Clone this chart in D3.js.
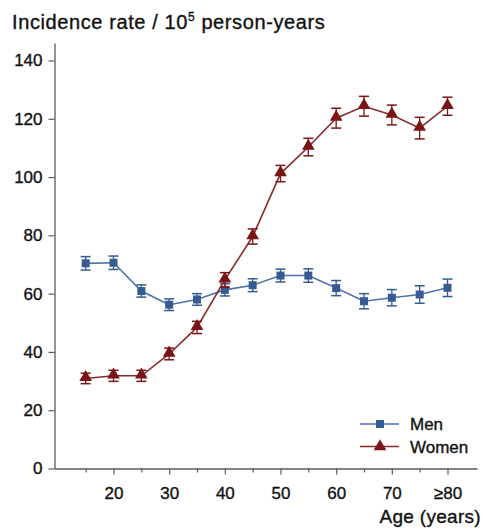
<!DOCTYPE html>
<html>
<head>
<meta charset="utf-8">
<script src="https://cdn.jsdelivr.net/npm/d3@7"></script>
<style>
  html, body { margin: 0; padding: 0; background: #fff; }
  svg { display: block; font-family: "Liberation Sans", Arial, Helvetica, sans-serif; }
  .txt { fill: #111; stroke: #111; stroke-width: 0.35px; }
</style>
</head>
<body>
<svg id="chart" width="483" height="528"></svg>
<script>
const ages = [15, 20, 25, 30, 35, 40, 45, 50, 55, 60, 65, 70, 75, 80];
const menValues = [70.4, 70.6, 60.9, 56.2, 58.0, 61.3, 62.9, 66.2, 66.2, 61.9, 57.4, 58.6, 59.7, 62.0];
const menErr = [2.3, 2.3, 2.1, 2.0, 2.0, 2.1, 2.2, 2.2, 2.3, 2.6, 2.6, 2.8, 3.0, 3.0];
const womenValues = [30.9, 31.8, 31.8, 39.3, 48.4, 64.7, 79.6, 101.2, 110.3, 120.2, 124.3, 121.3, 116.8, 124.3];
const womenErr = [1.8, 1.9, 1.9, 2.0, 2.1, 2.5, 2.6, 2.8, 3.0, 3.4, 3.4, 3.4, 3.7, 3.1];
const xMajorTicks = [20, 30, 40, 50, 60, 70, 80];
const xMajorLabels = ["20", "30", "40", "50", "60", "70", "≥80"];
const xMinorTicks = [15, 25, 35, 45, 55, 65, 75];
const yTicks = [0, 20, 40, 60, 80, 100, 120, 140];
const seriesNames = ["Men", "Women"];

const svg = d3.select("#chart");
const x = d3.scaleLinear().domain([9.4, 85.3]).range([54.5, 477]);
const y = d3.scaleLinear().domain([0, 146]).range([468.5, 43]);

const axisColor = "#5a5a5a";
const menColor = "#365a92";
const menLine = "#4f72a8";
const womenColor = "#7a1417";
const womenLine = "#8a2a2c";

// Title
const title = svg.append("text").attr("class", "txt")
  .attr("x", 12).attr("y", 29)
  .attr("font-size", 20).attr("letter-spacing", 0.6);
title.append("tspan").text("Incidence rate / 10");
title.append("tspan").text("5").attr("font-size", 12).attr("dy", -8);
title.append("tspan").text(" person-years").attr("dy", 8);

// Y axis
const yAxis = svg.append("g").attr("transform", `translate(${x.range()[0]},0)`)
  .call(d3.axisLeft(y).tickValues(yTicks).tickSize(6).tickPadding(6).tickSizeOuter(0));
yAxis.select(".domain").attr("stroke", axisColor).attr("stroke-width", 1.3);
yAxis.selectAll(".tick line").attr("stroke", axisColor).attr("stroke-width", 1.2);
yAxis.selectAll(".tick text").attr("class", "txt").attr("font-size", 17)
  .attr("font-family", "'Liberation Sans', Arial, sans-serif");

// X axis
const xAxis = svg.append("g").attr("transform", `translate(0,${y(0)})`)
  .call(d3.axisBottom(x).tickValues(xMajorTicks).tickFormat((d, i) => xMajorLabels[i])
    .tickSize(6).tickPadding(12).tickSizeOuter(0));
xAxis.select(".domain").attr("stroke", axisColor).attr("stroke-width", 1.3);
xAxis.selectAll(".tick line").attr("stroke", axisColor).attr("stroke-width", 1.2);
xAxis.selectAll(".tick text").attr("class", "txt").attr("font-size", 17)
  .attr("font-family", "'Liberation Sans', Arial, sans-serif");
const xMinor = svg.append("g").attr("transform", `translate(0,${y(0)})`)
  .call(d3.axisBottom(x).tickValues(xMinorTicks).tickFormat("").tickSize(4).tickSizeOuter(0));
xMinor.select(".domain").remove();
xMinor.selectAll(".tick line").attr("stroke", axisColor).attr("stroke-width", 1.2);

// X axis title
svg.append("text").attr("class", "txt").attr("x", 481).attr("y", 523).attr("text-anchor", "end")
  .attr("font-size", 19).attr("letter-spacing", 0.3).text("Age (years)");

function drawSeries(vals, errs, lineColor, markColor, shape) {
  const g = svg.append("g");
  const pts = ages.map((a, i) => ({ a, v: vals[i], e: errs[i] }));
  g.append("path").datum(pts)
    .attr("fill", "none").attr("stroke", lineColor).attr("stroke-width", 1.6)
    .attr("d", d3.line().x(d => x(d.a)).y(d => y(d.v)));
  const eb = g.selectAll(".eb").data(pts).enter().append("g");
  eb.append("line").attr("x1", d => x(d.a)).attr("x2", d => x(d.a))
    .attr("y1", d => y(d.v - d.e)).attr("y2", d => y(d.v + d.e))
    .attr("stroke", markColor).attr("stroke-width", 1.3);
  [1, -1].forEach(s => {
    eb.append("line").attr("x1", d => x(d.a) - 5).attr("x2", d => x(d.a) + 5)
      .attr("y1", d => y(d.v + s * d.e)).attr("y2", d => y(d.v + s * d.e))
      .attr("stroke", markColor).attr("stroke-width", 1.5);
  });
  const sym = shape === "square" ? d3.symbol().type(d3.symbolSquare).size(64)
                                 : d3.symbol().type(d3.symbolTriangle).size(70);
  g.selectAll(".mk").data(pts).enter().append("path")
    .attr("transform", d => `translate(${x(d.a)},${y(d.v) + (shape === "square" ? 0 : -1)})`)
    .attr("d", sym).attr("fill", markColor);
}
drawSeries(menValues, menErr, menLine, menColor, "square");
drawSeries(womenValues, womenErr, womenLine, womenColor, "triangle");

// Legend
const legend = [
  { name: seriesNames[0], line: menLine, color: menColor, shape: d3.symbolSquare, size: 64, y: 424 },
  { name: seriesNames[1], line: womenLine, color: womenColor, shape: d3.symbolTriangle, size: 70, y: 446.5 }
];
const lg = svg.append("g");
legend.forEach(l => {
  lg.append("line").attr("x1", 360).attr("x2", 399).attr("y1", l.y).attr("y2", l.y)
    .attr("stroke", l.line).attr("stroke-width", 1.6);
  lg.append("path").attr("transform", `translate(380,${l.y})`)
    .attr("d", d3.symbol().type(l.shape).size(l.size)).attr("fill", l.color);
  lg.append("text").attr("class", "txt").attr("x", 410).attr("y", l.y + 6).attr("font-size", 17)
    .text(l.name);
});
</script>
</body>
</html>
